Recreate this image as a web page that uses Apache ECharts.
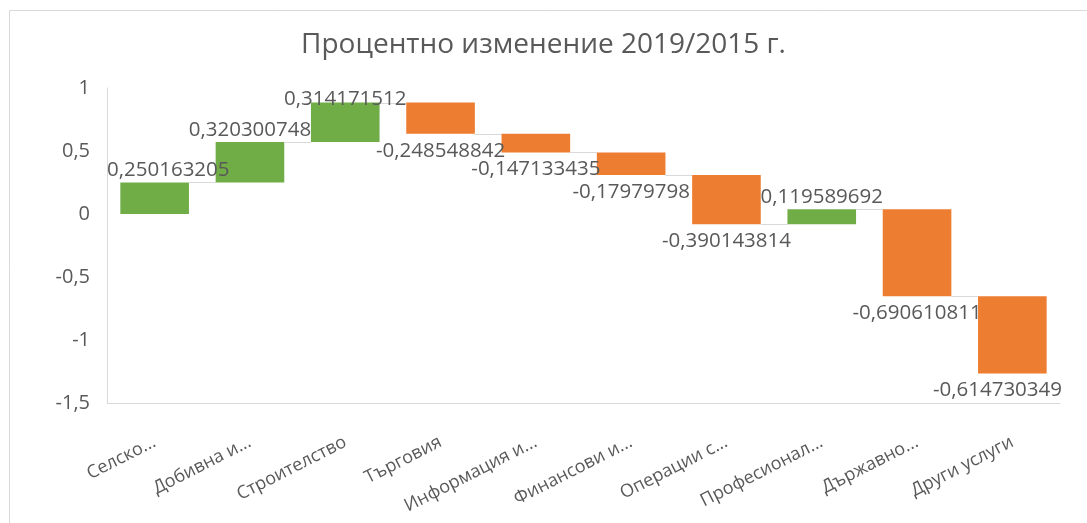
<!DOCTYPE html>
<html><head><meta charset="utf-8">
<script src="https://cdn.jsdelivr.net/npm/echarts@6/dist/echarts.min.js"></script>
<style>html,body{margin:0;padding:0;background:#fff}#c{width:1087px;height:523px}</style>
</head><body><div id="c"></div>
<script>
const categories = ['Селско...', 'Добивна и...', 'Строителство', 'Търговия', 'Информация и...', 'Финансови и...', 'Операции с...', 'Професионал...', 'Държавно...', 'Други услуги'];
const changes = [0.250163205, 0.320300748, 0.314171512, -0.248548842, -0.147133435, -0.17979798, -0.390143814, 0.119589692, -0.690610811, -0.614730349];
const yMin = -1.5, yMax = 1, yStep = 0.5;

const FONT = '"Open Sans", "Noto Sans", sans-serif';
const GREEN = '#70AD47', ORANGE = '#ED7D31', TXT = '#595959', LINE = '#d9d9d9';
const LABEL_SIZE = 20.5;
const GRID = {left: 107, right: 27, top: 88, bottom: 120};

// waterfall: [index, start, end, change]
const wf = [];
let acc = 0;
changes.forEach((v, i) => { wf.push([i, acc, acc + v, v]); acc += v; });

const fmt = v => String(v).replace('.', ',');
const mctx = document.createElement('canvas').getContext('2d');
mctx.font = LABEL_SIZE + 'px ' + FONT;

const chart = echarts.init(document.getElementById('c'));
chart.setOption({
  backgroundColor: '#fff',
  animation: false,
  title: {
    text: 'Процентно изменение 2019/2015 г.',
    left: 'center', top: 26,
    textStyle: {fontFamily: FONT, fontSize: 28, fontWeight: 'normal', color: TXT}
  },
  graphic: [{type: 'rect', shape: {x: 9.5, y: 10.5, width: 1200, height: 600}, style: {fill: null, stroke: LINE, lineWidth: 1}, silent: true}],
  grid: GRID,
  xAxis: {
    type: 'category', data: categories,
    axisTick: {show: false},
    axisLine: {onZero: false, lineStyle: {color: LINE, width: 1}},
    axisLabel: {rotate: 27, interval: 0, margin: 38, fontFamily: FONT, fontSize: 18, color: TXT}
  },
  yAxis: {
    type: 'value', min: yMin, max: yMax, interval: yStep,
    splitLine: {show: false},
    axisLine: {show: true, lineStyle: {color: LINE, width: 1}},
    axisTick: {show: false},
    axisLabel: {margin: 17, fontFamily: FONT, fontSize: 20, color: TXT, formatter: v => fmt(v)}
  },
  series: [{
    type: 'custom',
    clip: false,
    data: wf,
    renderItem: function (params, api) {
      const i = api.value(0), s = api.value(1), e = api.value(2), v = api.value(3);
      const p0 = api.coord([i, s]), p1 = api.coord([i, e]);
      const band = api.size([1, 0])[0];
      const w = band * 0.72;
      const top = Math.min(p0[1], p1[1]), bot = Math.max(p0[1], p1[1]);
      const children = [{
        type: 'rect',
        shape: {x: p0[0] - w / 2, y: top, width: w, height: bot - top},
        style: {fill: v >= 0 ? GREEN : ORANGE}
      }];
      if (i < wf.length - 1) {
        const pn = api.coord([i + 1, e]);
        children.push({
          type: 'line',
          shape: {x1: p0[0] + w / 2, y1: Math.round(p1[1]) + 0.5, x2: pn[0] - w / 2, y2: Math.round(p1[1]) + 0.5},
          style: {stroke: LINE, lineWidth: 1}
        });
      }
      // label
      const txt = fmt(v);
      const tw = mctx.measureText(txt).width;
      const cs = params.coordSys;
      let cx = p0[0];
      cx = Math.max(cx, cs.x + tw / 2);
      cx = Math.min(cx, cs.x + cs.width - tw / 2 + 2);
      let ly;
      if (v >= 0) {
        ly = top - 12;
        ly = Math.max(ly, cs.y + 11);
      } else {
        ly = bot + 17;
      }
      children.push({
        type: 'text',
        style: {x: cx, y: ly, text: txt, align: 'center', verticalAlign: 'middle',
          fontFamily: FONT, fontSize: LABEL_SIZE, fill: TXT},
        z2: 10
      });
      return {type: 'group', children: children};
    }
  }]
});
</script></body></html>
